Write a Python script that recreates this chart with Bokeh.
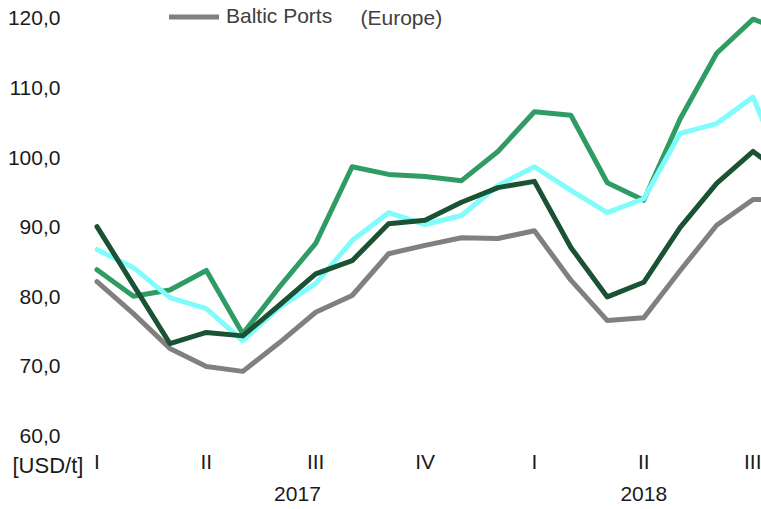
from bokeh.plotting import figure
from bokeh.models import (Range1d, FixedTicker, LinearAxis, Legend, LegendItem, Label)
from bokeh.embed import file_html
from bokeh.resources import INLINE

# Monthly data, Jan 2017 .. Aug 2018 (index 0..19)
months = list(range(20))
baltic_ports = [82.2, 77.6, 72.6, 70.0, 69.3, 73.4, 77.8, 80.2, 86.2, 87.4,
                88.5, 88.4, 89.5, 82.4, 76.6, 77.0, 83.8, 90.3, 94.0, 94.0]
series_dark = [90.1, 81.7, 73.3, 74.9, 74.4, 78.8, 83.3, 85.2, 90.5, 91.0,
               93.6, 95.7, 96.6, 87.1, 80.0, 82.1, 90.0, 96.3, 100.9, 97.0]
series_green = [83.9, 80.1, 81.0, 83.8, 74.7, 81.4, 87.7, 98.7, 97.6, 97.3,
                96.7, 100.9, 106.6, 106.1, 96.4, 93.9, 105.6, 115.0, 119.9, 118.0]
series_cyan = [86.8, 84.2, 79.9, 78.3, 73.7, 78.5, 81.9, 88.1, 92.1, 90.4,
               91.7, 96.0, 98.7, 95.3, 92.1, 94.1, 103.5, 104.9, 108.7, 96.0]

quarter_ticks = [0, 3, 6, 9, 12, 15, 18]
quarter_labels = ["I", "II", "III", "IV", "I", "II", "III"]
year_ticks = [5.5, 15]
year_labels = ["2017", "2018"]
y_ticks = [60, 70, 80, 90, 100, 110, 120]
y_labels = ["60,0", "70,0", "80,0", "90,0", "100,0", "110,0", "120,0"]
unit_label = "[USD/t]"
legend_label = "Baltic Ports"
region_label = "(Europe)"

FONT = "Liberation Sans"
FS = "21px"
TXT = "#1a1a1a"

# The frame covers the whole canvas; axes are pinned at fixed data locations
X0, X1 = -2.647, 18.23
Y0, Y1 = 49.454, 122.586
AXIS_X = -0.233      # left edge of the plotting area
AXIS_Y = 59.368      # bottom edge of the plotting area

p = figure(width=761, height=509, output_backend="svg", toolbar_location=None,
           x_range=Range1d(X0, X1), y_range=Range1d(Y0, Y1),
           min_border=0, x_axis_type=None, y_axis_type=None,
           outline_line_color=None, background_fill_color="white",
           border_fill_color="white")
p.xgrid.visible = False
p.ygrid.visible = False

yax = LinearAxis(ticker=FixedTicker(ticks=y_ticks), fixed_location=AXIS_X,
                 major_label_overrides={t: l for t, l in zip(y_ticks, y_labels)})
yax.axis_line_color = None
yax.major_tick_line_color = None
yax.minor_tick_line_color = None
yax.major_tick_out = 0
yax.major_tick_in = 0
yax.major_label_standoff = 28
yax.major_label_text_font = FONT
yax.major_label_text_font_size = FS
yax.major_label_text_color = TXT
p.add_layout(yax, "left")

qax = LinearAxis(ticker=FixedTicker(ticks=quarter_ticks), fixed_location=AXIS_Y,
                 major_label_overrides={t: l for t, l in zip(quarter_ticks, quarter_labels)})
yrax = LinearAxis(ticker=FixedTicker(ticks=year_ticks), fixed_location=AXIS_Y,
                  major_label_overrides={t: l for t, l in zip(year_ticks, year_labels)})
for ax, so in ((qax, 10), (yrax, 47)):
    ax.axis_line_color = None
    ax.major_tick_line_color = None
    ax.minor_tick_line_color = None
    ax.major_tick_out = 0
    ax.major_tick_in = 0
    ax.major_label_standoff = so
    ax.major_label_text_font = FONT
    ax.major_label_text_font_size = FS
    ax.major_label_text_color = TXT
    p.add_layout(ax, "below")

common = dict(line_width=5, line_join="round", line_cap="round")
r_gray = p.line(months, baltic_ports, line_color="#808080", **common)
r_green = p.line(months, series_green, line_color="#2e9c64", **common)
r_cyan = p.line(months, series_cyan, line_color="#80fcfc", **common)
r_dark = p.line(months, series_dark, line_color="#1a5233", **common)

legend = Legend(items=[LegendItem(label=legend_label, renderers=[r_gray])],
                location=(169, 481), orientation="horizontal",
                padding=0, margin=0, spacing=0, label_standoff=7,
                glyph_width=50, glyph_height=21, label_height=21,
                label_text_font=FONT, label_text_font_size=FS,
                label_text_color="#404040", border_line_color=None,
                background_fill_alpha=0)
p.add_layout(legend, "center")

p.add_layout(Label(x=7.229, y=120.14, text=region_label, text_font=FONT,
                   text_font_size=FS, text_color="#404040",
                   text_baseline="middle", text_align="left"))
p.add_layout(Label(x=-2.318, y=55.78, text=unit_label, text_font=FONT,
                   text_font_size="22px", text_color=TXT,
                   text_baseline="middle", text_align="left"))

open("out.html", "w").write(file_html(p, INLINE))
